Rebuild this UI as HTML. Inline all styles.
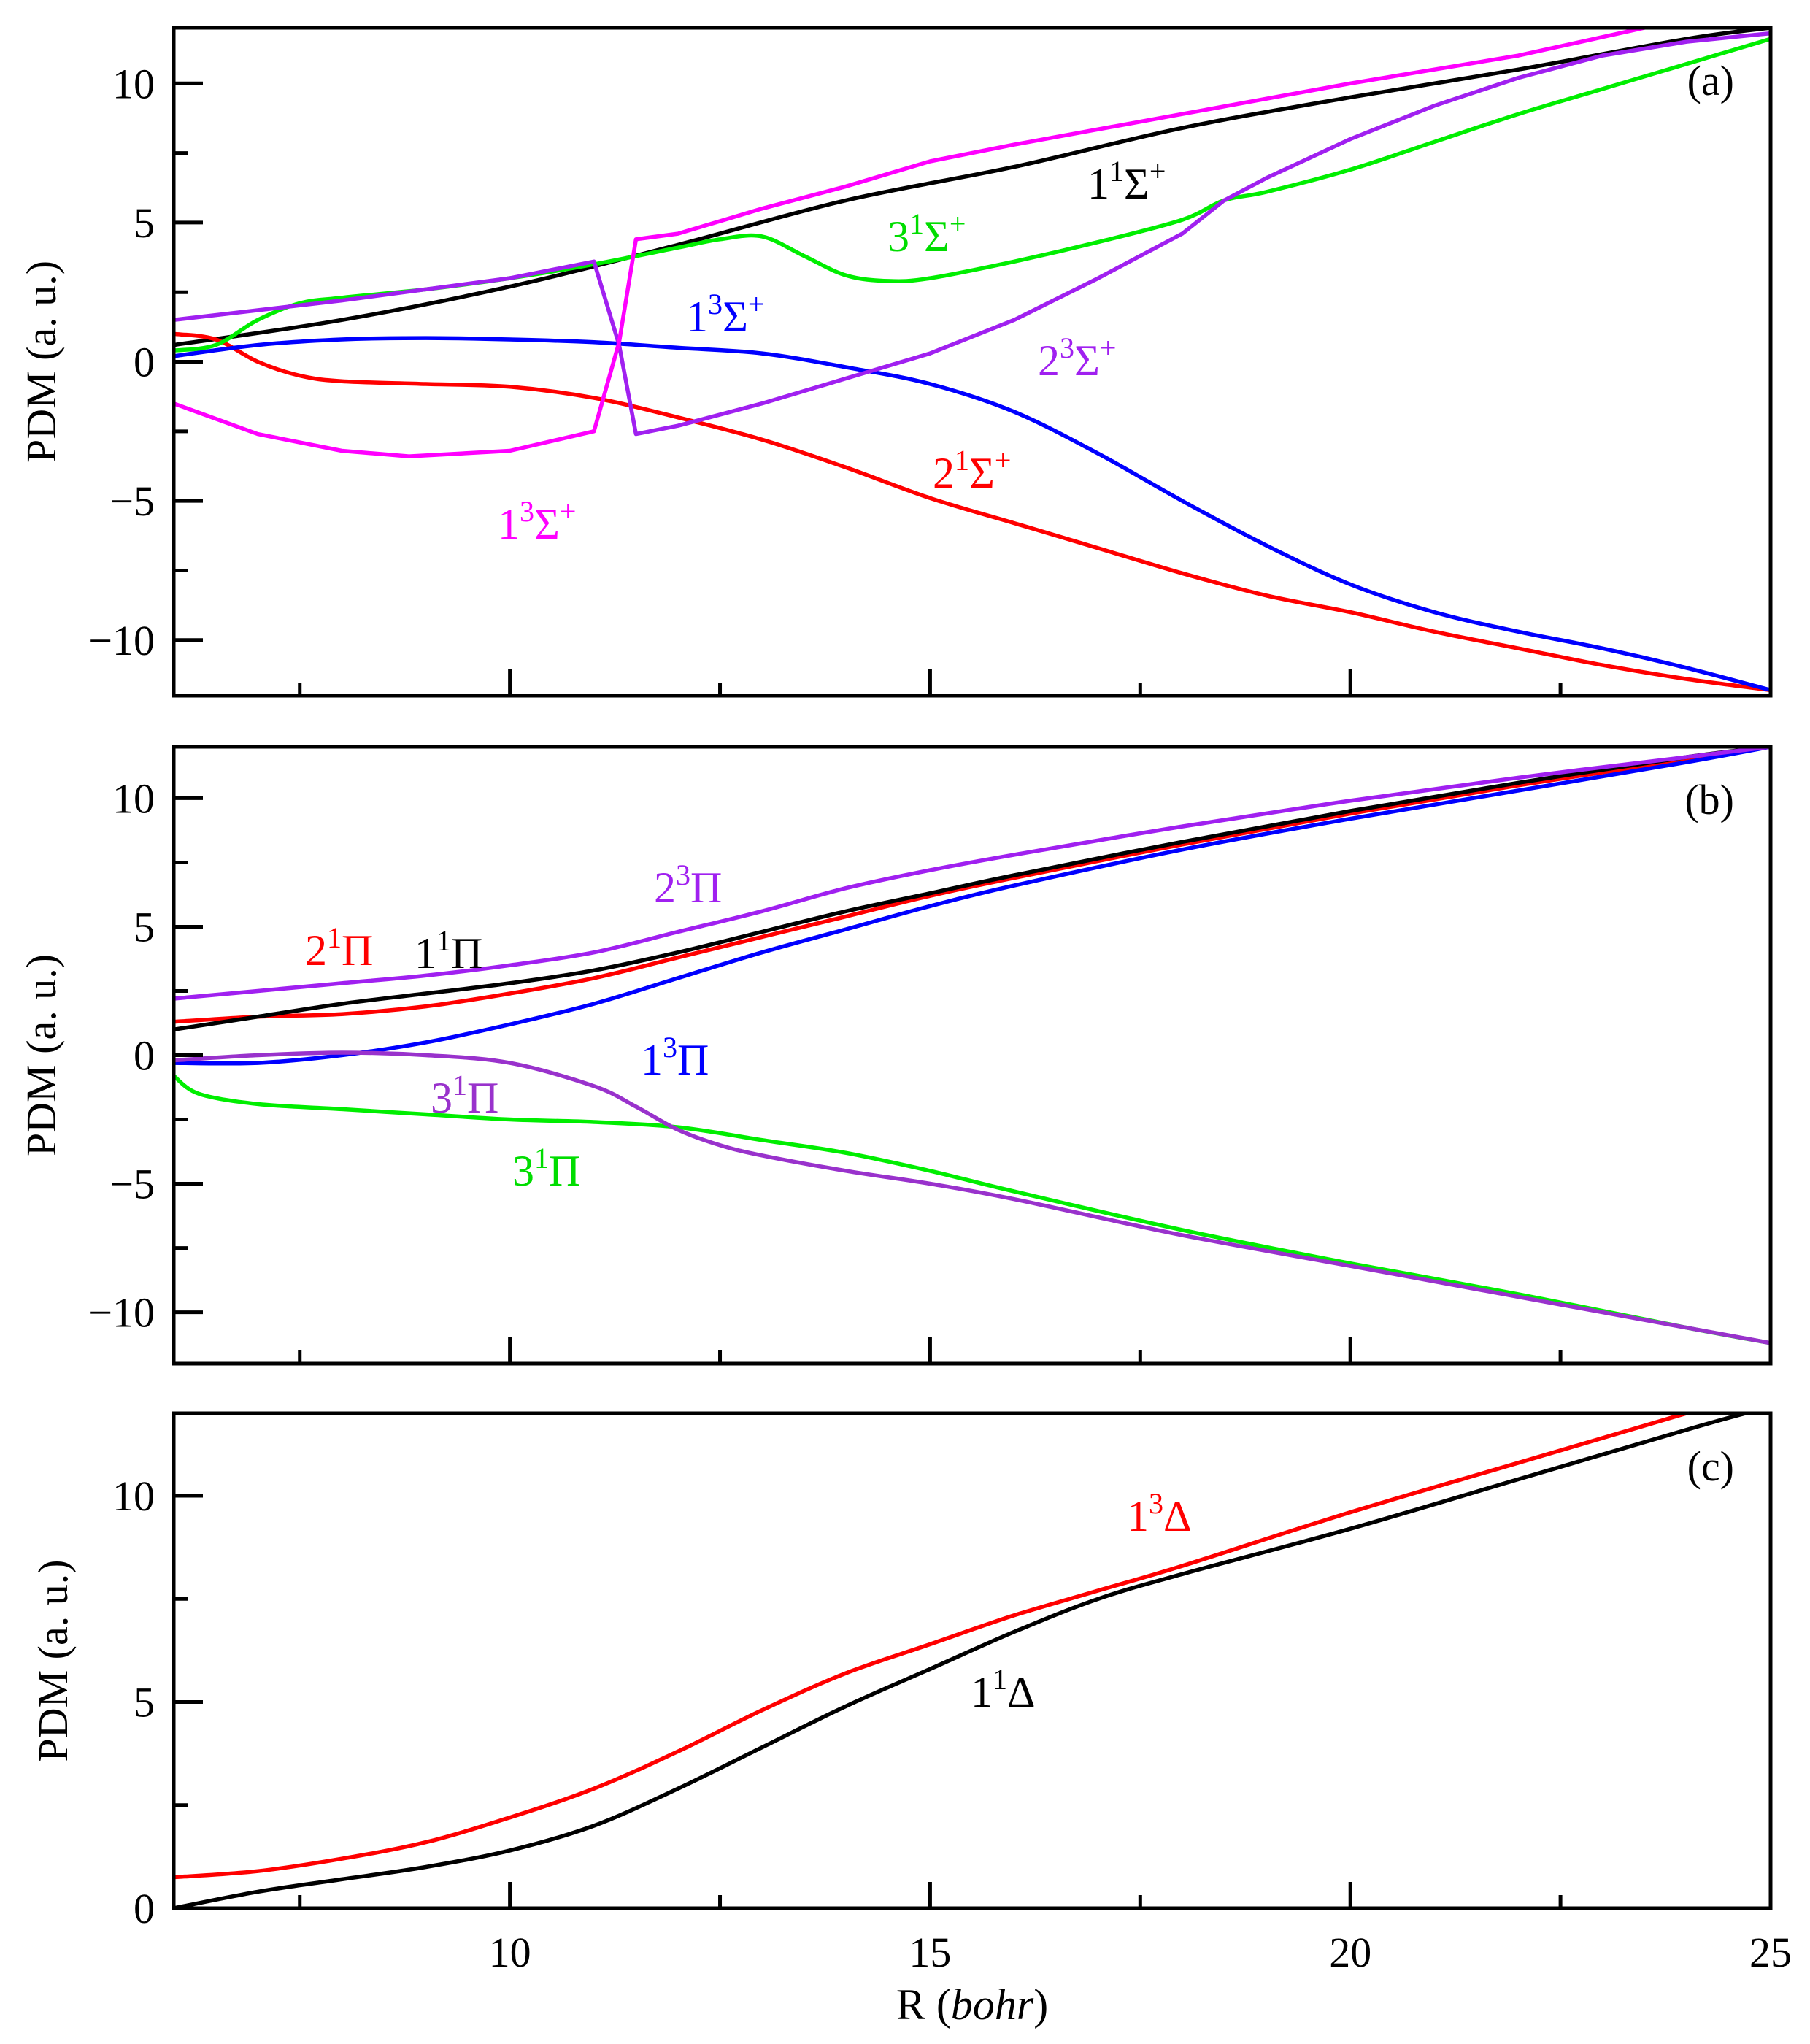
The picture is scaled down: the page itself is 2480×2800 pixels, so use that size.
<!DOCTYPE html>
<html><head><meta charset="utf-8"><style>
html,body{margin:0;padding:0;background:#fff;}
svg{display:block;font-family:"Liberation Serif",serif;}
</style></head><body>
<svg id="chart" width="2480" height="2800" viewBox="0 0 2480 2800" xmlns="http://www.w3.org/2000/svg"></svg>
<script>
// Panel (a) series
const a_black_x = [6,8,10,12,14,16,18,20,22,24,25];
const a_black_y = [0.6,1.5,2.7,4.2,5.8,7.0,8.4,9.5,10.5,11.6,12];
const a_mag_x = [6,7,8,8.8,10,11.0,11.3,11.5,12,13,14,15,16,18,20,22,23.5];
const a_mag_y = [-1.5,-2.6,-3.2,-3.4,-3.2,-2.5,0.7,4.4,4.6,5.5,6.3,7.2,7.8,8.9,10.0,11.0,12];
const a_pur_x = [6,8,10,11,11.3,11.5,12,13,14,15,16,17,18,18.5,19,20,21,22,23,24,25];
const a_pur_y = [1.5,2.2,3.0,3.6,0.6,-2.6,-2.3,-1.5,-0.6,0.3,1.5,3.0,4.6,5.8,6.6,8.0,9.2,10.2,11.0,11.5,11.8];
const a_grn_x = [6,6.5,7,7.5,8,9,10,11,12,12.5,13,13.5,14,14.5,15,16,17,18,18.5,19,20,21,22,23,24,25];
const a_grn_y = [0.4,0.6,1.5,2.1,2.3,2.6,3.0,3.5,4.1,4.4,4.5,3.8,3.1,2.9,3.0,3.6,4.3,5.1,5.8,6.1,6.9,7.9,8.9,9.8,10.7,11.6];
const a_blu_x = [6,7,8,9,10,11,12,13,14,15,16,17,18,19,20,21,22,23,24,25];
const a_blu_y = [0.2,0.6,0.8,0.85,0.8,0.7,0.5,0.3,-0.2,-0.8,-1.8,-3.3,-5.0,-6.6,-8.0,-9.0,-9.7,-10.3,-11.0,-11.8];
const a_red_x = [6,6.5,7,7.5,8,9,10,11,12,13,14,15,16,17,18,19,20,21,22,23,24,25];
const a_red_y = [1.0,0.8,0.0,-0.5,-0.7,-0.8,-0.9,-1.3,-2.0,-2.8,-3.8,-4.9,-5.8,-6.7,-7.6,-8.4,-9.0,-9.7,-10.3,-10.9,-11.4,-11.8];
// Panel (b) series
const b_x = [6,7,8,9,10,11,12,13,14,15,16,18,20,22,24,25];
const b_pur_y = [2.2,2.5,2.8,3.1,3.5,4.0,4.8,5.6,6.5,7.2,7.8,8.9,9.9,10.8,11.6,12];
const b_blk_y = [1.0,1.5,2.0,2.4,2.8,3.3,4.0,4.8,5.6,6.3,7.0,8.3,9.5,10.6,11.6,12];
const b_red_y = [1.3,1.5,1.6,1.9,2.4,3.0,3.8,4.6,5.4,6.2,6.9,8.2,9.4,10.5,11.5,12];
const b_blu_y = [-0.3,-0.3,0.0,0.5,1.2,2.0,3.0,4.0,4.9,5.8,6.6,8.0,9.2,10.3,11.4,12];
const b_p3_x = [6,7,8,9,10,11,11.5,12,12.5,13,14,15,16,18,20,22,24,25];
const b_p3_y = [-0.2,0.0,0.1,0.0,-0.3,-1.2,-2.0,-2.9,-3.5,-3.9,-4.5,-5.0,-5.6,-7.0,-8.2,-9.4,-10.6,-11.2];
const b_g_x = [6,6.3,7,8,9,10,11,12,13,14,15,16,18,20,22,24,25];
const b_g_y = [-0.8,-1.5,-1.9,-2.1,-2.3,-2.5,-2.6,-2.8,-3.3,-3.8,-4.5,-5.3,-6.8,-8.1,-9.3,-10.6,-11.2];
// Panel (c) series
const c_red_x = [6,7,8,9,10,11,12,13,14,15,16,17,18,20,22,24];
const c_red_y = [0.75,0.9,1.2,1.6,2.2,2.9,3.8,4.8,5.7,6.4,7.1,7.7,8.3,9.6,10.8,12];
const c_blk_x = [6,7,8,9,10,11,12,13,14,15,16,17,18,20,22,24,24.7];
const c_blk_y = [0,0.4,0.7,1.0,1.4,2.0,2.9,3.9,4.9,5.8,6.7,7.5,8.1,9.2,10.4,11.6,12];
// ticks
const xMajor = [10,15,20,25];
const xMinor = [7.5,12.5,17.5,22.5];
const yMajAB = [-10,-5,0,5,10];
const yMinAB = [-7.5,-2.5,2.5,7.5];
const yMajC = [0,5,10];
const yMinC = [2.5,7.5];

const NS="http://www.w3.org/2000/svg";
const svg=document.getElementById('chart');
const L=238,R=2426,X0=6,X1=25;
const sx=v=>L+(v-X0)/(X1-X0)*(R-L);
function mk(tag,attrs,parent){const e=document.createElementNS(NS,tag);for(const k in attrs)e.setAttribute(k,attrs[k]);(parent||svg).appendChild(e);return e;}

function panel(id,top,bot,ymin,ymax,ymaj,ymin2,label){
  const g=mk('g',{});
  
  
  const sy=v=>bot-(v-ymin)/(ymax-ymin)*(bot-top);
  const cp=mk('clipPath',{id:'clip'+id},g);
  mk('rect',{x:L,y:top,width:R-L,height:bot-top},cp);
  const lines=mk('g',{'clip-path':'url(#clip'+id+')'},g);
  ymaj.forEach(v=>{const t=mk('line',{x1:L,x2:L+40,y1:sy(v),y2:sy(v),stroke:'#000','stroke-width':5},g);
    
    
    const tx=mk('text',{x:L-26,y:sy(v)+20,'text-anchor':'end','font-size':58,fill:'#000'},g);
    
    
    tx.textContent=(v<0?'\u2212':'')+Math.abs(v);});
  ymin2.forEach(v=>{const t=mk('line',{x1:L,x2:L+20,y1:sy(v),y2:sy(v),stroke:'#000','stroke-width':5},g);
    
    });
  xMajor.forEach(v=>{const t=mk('line',{x1:sx(v),x2:sx(v),y1:bot,y2:bot-36,stroke:'#000','stroke-width':5},g);
    
    });
  xMinor.forEach(v=>{const t=mk('line',{x1:sx(v),x2:sx(v),y1:bot,y2:bot-18,stroke:'#000','stroke-width':5},g);
    
    });
  const fr=mk('rect',{x:L,y:top,width:R-L,height:bot-top,fill:'none',stroke:'#000','stroke-width':5},g);
  
  
  const yl=mk('text',{x:0,y:0,transform:`translate(${id==='c'?92:76},${(top+bot)/2}) rotate(-90)`,'text-anchor':'middle','font-size':58,fill:'#000'},g);
  
  
  yl.textContent='PDM (a. u.)';
  const pl=mk('text',{x:R-50,y:top+92,'text-anchor':'end','font-size':58,fill:'#000'},g);
  
  
  pl.textContent=label;
  return {sy,lines,g};
}
function series(P,xs,ys,color,name,smooth){
  const pts=xs.map((x,i)=>[sx(x),P.sy(ys[i])]);
  let d='M'+pts[0][0].toFixed(1)+','+pts[0][1].toFixed(1);
  for(let i=1;i<pts.length;i++){
    if(!smooth){d+=' L'+pts[i][0].toFixed(1)+','+pts[i][1].toFixed(1);continue;}
    const p0=pts[Math.max(0,i-2)],p1=pts[i-1],p2=pts[i],p3=pts[Math.min(pts.length-1,i+1)];
    const c1=[p1[0]+(p2[0]-p0[0])/6,p1[1]+(p2[1]-p0[1])/6];
    const c2=[p2[0]-(p3[0]-p1[0])/6,p2[1]-(p3[1]-p1[1])/6];
    d+=` C${c1[0].toFixed(1)},${c1[1].toFixed(1)} ${c2[0].toFixed(1)},${c2[1].toFixed(1)} ${p2[0].toFixed(1)},${p2[1].toFixed(1)}`;
  }
  const p=mk('path',{d:d,fill:'none',stroke:color,'stroke-width':5.5,'stroke-linejoin':'round'},P.lines);
  
  
}
function lab(P,x,y,color,n,sup,sym,plus,name){
  const t=mk('text',{x:x,y:y,'font-size':60,fill:color},P.g);
  
  
  let s=mk('tspan',{},t);s.textContent=n;
  s=mk('tspan',{dy:-24,'font-size':40},t);s.textContent=sup;
  s=mk('tspan',{dy:24},t);s.textContent=sym;
  if(plus){s=mk('tspan',{dy:-24,'font-size':40},t);s.textContent='+';}
}
const PA=panel('a',38,953,-12,12,yMajAB,yMinAB,'(a)');
series(PA,a_black_x,a_black_y,'#000','series-1-1sigma',true);
series(PA,a_red_x,a_red_y,'#ff0000','series-2-1sigma',true);
series(PA,a_blu_x,a_blu_y,'#0000ff','series-1-3sigma',true);
series(PA,a_grn_x,a_grn_y,'#00ee00','series-3-1sigma',true);
series(PA,a_pur_x,a_pur_y,'#a020f0','series-2-3sigma',false);
series(PA,a_mag_x,a_mag_y,'#ff00ff','series-1-3sigma-magenta',false);
lab(PA,1490,272,'#000','1','1','Σ',true,'label-1-1sigma');
lab(PA,1216,344,'#00dd00','3','1','Σ',true,'label-3-1sigma');
lab(PA,940,454,'#0000ff','1','3','Σ',true,'label-1-3sigma');
lab(PA,1422,514,'#a020f0','2','3','Σ',true,'label-2-3sigma');
lab(PA,1278,668,'#ff0000','2','1','Σ',true,'label-2-1sigma');
lab(PA,682,738,'#ff00ff','1','3','Σ',true,'label-1-3sigma-magenta');

const PB=panel('b',1023,1868,-12,12,yMajAB,yMinAB,'(b)');
series(PB,b_x,b_red_y,'#ff0000','series-2-1pi',true);
series(PB,b_x,b_blk_y,'#000','series-1-1pi',true);
series(PB,b_x,b_blu_y,'#0000ff','series-1-3pi',true);
series(PB,b_x,b_pur_y,'#a020f0','series-2-3pi',true);
series(PB,b_g_x,b_g_y,'#00ee00','series-3-1pi-green',true);
series(PB,b_p3_x,b_p3_y,'#9932cc','series-3-1pi-purple',true);
lab(PB,896,1236,'#a020f0','2','3','Π',false,'label-2-3pi');
lab(PB,418,1322,'#ff0000','2','1','Π',false,'label-2-1pi');
lab(PB,568,1326,'#000','1','1','Π',false,'label-1-1pi');
lab(PB,878,1472,'#0000ff','1','3','Π',false,'label-1-3pi');
lab(PB,590,1524,'#9932cc','3','1','Π',false,'label-3-1pi-purple');
lab(PB,702,1624,'#00dd00','3','1','Π',false,'label-3-1pi-green');

const PC=panel('c',1936,2614,0,12,yMajC,yMinC,'(c)');
series(PC,c_red_x,c_red_y,'#ff0000','series-1-3delta',true);
series(PC,c_blk_x,c_blk_y,'#000','series-1-1delta',true);
lab(PC,1544,2097,'#ff0000','1','3','Δ',false,'label-1-3delta');
lab(PC,1330,2338,'#000','1','1','Δ',false,'label-1-1delta');
xMajor.forEach(v=>{const t=mk('text',{x:sx(v),y:2694,'text-anchor':'middle','font-size':58,fill:'#000'});
  
  
  t.textContent=v;});
const xt=mk('text',{x:sx(15.5),y:2766,'text-anchor':'middle','font-size':60,fill:'#000'});


let s1=mk('tspan',{},xt);s1.textContent='R (';
let s2=mk('tspan',{'font-style':'italic'},xt);s2.textContent='bohr';
let s3=mk('tspan',{},xt);s3.textContent=')';
</script>
</body></html>
